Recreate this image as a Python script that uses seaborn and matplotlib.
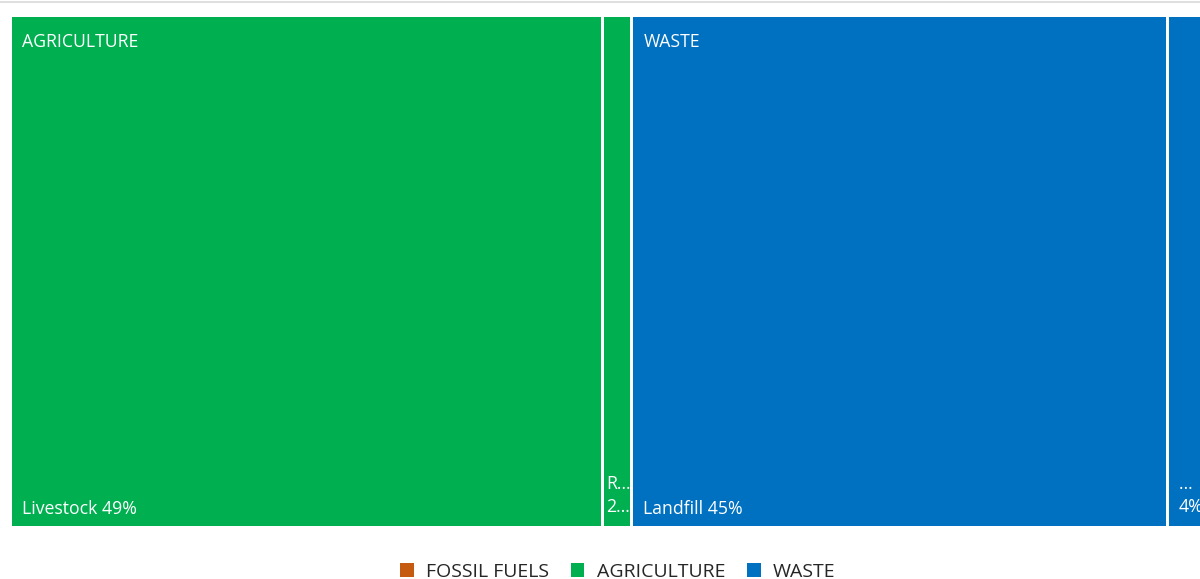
import matplotlib
matplotlib.use("Agg")
import matplotlib.pyplot as plt
import seaborn as sns
from matplotlib.patches import Rectangle, Patch
from matplotlib.lines import Line2D

# categories shown in the legend
categorias = ["FOSSIL FUELS", "AGRICULTURE", "WASTE"]
colores = {"FOSSIL FUELS": "#C55A11", "AGRICULTURE": "#00B050", "WASTE": "#0070C0"}

# visible leaves of the treemap (share of total, %)
hoja_categoria = ["AGRICULTURE", "AGRICULTURE", "WASTE", "WASTE"]
hoja_valor = [49, 2.4, 44.3, 4]
hoja_nombre = ["Livestock 49%", "R…", "Landfill 45%", "…"]
hoja_pct = ["", "2…", "", "4%"]

sns.set_theme(style="white")
plt.rcParams["font.family"] = ["Open Sans", "DejaVu Sans"]

PX = 12.09  # pixels per percent unit
GAP = 3 / PX

fig = plt.figure(figsize=(12, 5.79), dpi=100)
ax = fig.add_axes([12 / 1200, (579 - 526) / 579, (1200 - 12) / 1200, (526 - 17) / 579])
ax.set_xlim(0, 1188 / PX)
ax.set_ylim(0, 1)
ax.axis("off")

x0 = 0
vistos = set()
for cat, val, nom, pct in zip(hoja_categoria, hoja_valor, hoja_nombre, hoja_pct):
    ax.add_patch(Rectangle((x0, 0), val - GAP, 1, facecolor=colores[cat],
                           edgecolor="none", clip_on=False))
    ancho = (val - GAP) * PX
    pad = 2 if ancho < 40 else 10
    if cat not in vistos:
        vistos.add(cat)
        ax.annotate(cat, (x0, 1), xytext=(pad * 0.72, -16 * 0.72),
                    textcoords="offset points", color="white", fontsize=12.7,
                    va="top", ha="left", annotation_clip=False)
    if pct:
        ax.annotate(nom, (x0, 0), xytext=(pad * 0.72, 37 * 0.72),
                    textcoords="offset points", color="white", fontsize=12.7,
                    va="baseline", ha="left", annotation_clip=False)
        ax.annotate(pct, (x0, 0), xytext=(pad * 0.72, 14 * 0.72),
                    textcoords="offset points", color="white", fontsize=12.7,
                    va="baseline", ha="left", annotation_clip=False)
    else:
        ax.annotate(nom, (x0, 0), xytext=(pad * 0.72, 12 * 0.72),
                    textcoords="offset points", color="white", fontsize=12.7,
                    va="baseline", ha="left", annotation_clip=False)
    x0 += val

# thin grey border at the top
fig.add_artist(Line2D([0, 1], [1 - 1.5 / 579, 1 - 1.5 / 579], color="#D9D9D9",
                      linewidth=1.2, transform=fig.transFigure))

handles = [Patch(facecolor=colores[c], edgecolor="none", label=c) for c in categorias]
fig.legend(handles=handles, loc="center", bbox_to_anchor=(618 / 1200, 1 - 572 / 579),
           ncol=3, frameon=False, fontsize=14, handlelength=0.7, handleheight=0.7,
           handletextpad=0.65, columnspacing=1.1, labelcolor="#262626")

fig.savefig("out.png", dpi=100, facecolor="white")
